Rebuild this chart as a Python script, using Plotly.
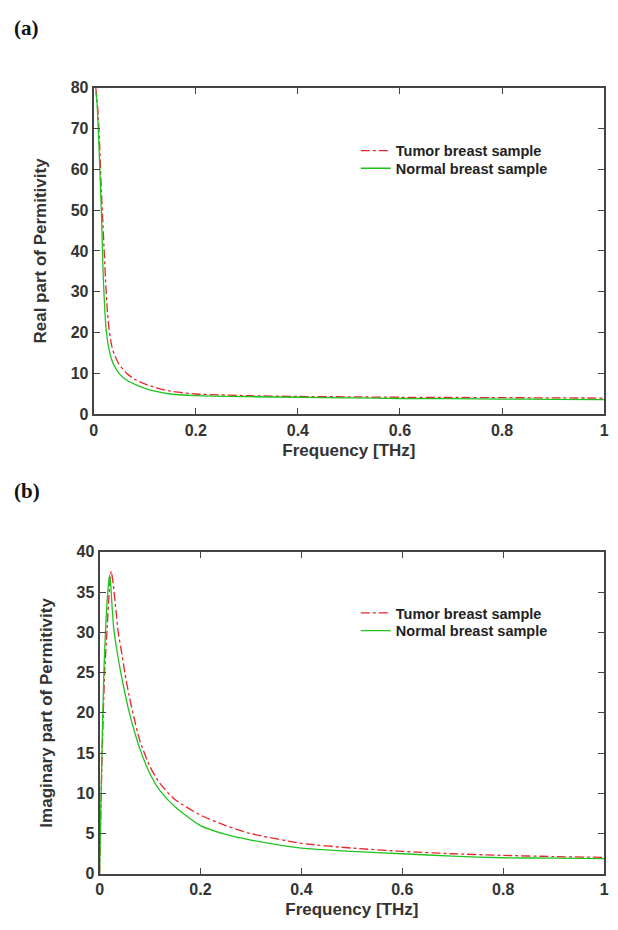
import plotly.graph_objects as go

# ---- Data ----
f_real_normal = [0.004, 0.006, 0.009, 0.012, 0.015, 0.017, 0.019, 0.022, 0.025, 0.03, 0.035, 0.04, 0.05, 0.06, 0.07, 0.08, 0.1, 0.12, 0.15, 0.2, 0.3, 0.4, 0.5, 0.6, 0.7, 0.8, 0.9, 1.0]
real_normal   = [79, 77, 70, 60, 50, 41, 33, 25, 20, 16, 13.5, 12, 10, 8.8, 8.0, 7.4, 6.4, 5.7, 5.0, 4.6, 4.35, 4.2, 4.05, 3.9, 3.85, 3.75, 3.7, 3.6]

f_real_tumor = [0.004, 0.006, 0.009, 0.012, 0.015, 0.018, 0.021, 0.024, 0.027, 0.03, 0.035, 0.04, 0.05, 0.065, 0.08, 0.1, 0.12, 0.15, 0.2, 0.3, 0.4, 0.5, 0.6, 0.7, 0.8, 0.9, 1.0]
real_tumor   = [80, 78, 73, 65, 55, 47, 39, 31, 25, 21, 17, 14.8, 12.2, 10, 8.6, 7.5, 6.6, 5.7, 5.0, 4.6, 4.4, 4.3, 4.2, 4.15, 4.1, 4.05, 4.0]

f_imag_normal = [0.0, 0.003, 0.006, 0.009, 0.012, 0.015, 0.0195, 0.022, 0.025, 0.028, 0.035, 0.042, 0.05, 0.059, 0.07, 0.08, 0.1, 0.12, 0.15, 0.2, 0.25, 0.3, 0.4, 0.5, 0.6, 0.7, 0.8, 0.9, 1.0]
imag_normal   = [0, 10, 19, 26, 30.5, 34, 37.1, 36, 33, 30.5, 27.5, 25, 22.5, 20, 17.5, 15.5, 12.4, 10.3, 8.3, 6.0, 4.9, 4.2, 3.2, 2.8, 2.5, 2.2, 2.0, 1.95, 1.9]

f_imag_tumor = [0.0, 0.003, 0.006, 0.01, 0.015, 0.019, 0.023, 0.027, 0.032, 0.037, 0.045, 0.05, 0.058, 0.066, 0.08, 0.1, 0.12, 0.15, 0.2, 0.25, 0.3, 0.4, 0.5, 0.6, 0.7, 0.8, 0.9, 1.0]
imag_tumor   = [0, 9, 17, 25, 30.5, 35, 37.6, 36, 33, 30, 27, 25, 22.3, 20, 16.5, 13.3, 11.2, 9.2, 7.3, 6.0, 5.0, 3.8, 3.2, 2.8, 2.5, 2.3, 2.15, 2.05]

x_ticks = [0, 0.2, 0.4, 0.6, 0.8, 1]
x_tick_text = ["0", "0.2", "0.4", "0.6", "0.8", "1"]
y_ticks_a = [0, 10, 20, 30, 40, 50, 60, 70, 80]
y_ticks_b = [0, 5, 10, 15, 20, 25, 30, 35, 40]

RED = "#e8262b"
GREEN = "#1fc41f"
AX = "#444444"
FONT = "Liberation Sans"
W, H = 618, 930

fig = go.Figure()
fig.add_trace(go.Scatter(x=f_real_tumor, y=real_tumor, mode="lines", name="Tumor breast sample",
                         line=dict(color=RED, width=1.3, dash="dashdot", shape="spline", smoothing=0.6),
                         xaxis="x", yaxis="y", legend="legend"))
fig.add_trace(go.Scatter(x=f_real_normal, y=real_normal, mode="lines", name="Normal breast sample",
                         line=dict(color=GREEN, width=1.3, shape="spline", smoothing=0.6),
                         xaxis="x", yaxis="y", legend="legend2"))
fig.add_trace(go.Scatter(x=f_imag_tumor, y=imag_tumor, mode="lines", name="Tumor breast sample",
                         line=dict(color=RED, width=1.3, dash="dashdot", shape="spline", smoothing=0.6),
                         xaxis="x2", yaxis="y2", legend="legend3"))
fig.add_trace(go.Scatter(x=f_imag_normal, y=imag_normal, mode="lines", name="Normal breast sample",
                         line=dict(color=GREEN, width=1.3, shape="spline", smoothing=0.6),
                         xaxis="x2", yaxis="y2", legend="legend4"))

tickfont = dict(family=FONT, size=16, color="#333333", weight="bold")
titlefont = dict(family=FONT, size=17, color="#333333", weight="bold")

common_axis = dict(showline=True, linecolor=AX, linewidth=2, mirror="ticks", ticks="inside",
                   ticklen=6, tickwidth=1.2, tickcolor=AX, showgrid=False, zeroline=False,
                   tickfont=tickfont, ticklabeloverflow="allow")

legfont = dict(family=FONT, size=14.5, color="#222222", weight="bold")


def leg(top_px):
    return dict(x=357 / W, y=1 - top_px / H, xanchor="left", yanchor="top", bgcolor="rgba(0,0,0,0)",
                font=legfont, itemwidth=30)


fig.update_layout(
    width=W, height=H,
    margin=dict(l=0, r=0, t=0, b=0),
    paper_bgcolor="white", plot_bgcolor="white",
    xaxis=dict(domain=[91 / W, 609 / W], range=[0, 1], tickvals=x_ticks, ticktext=x_tick_text,
               anchor="y", title=dict(text="Frequency [THz]", font=titlefont, standoff=6), **common_axis),
    yaxis=dict(domain=[1 - 414 / H, 1 - 81 / H], range=[0, 80], tickvals=y_ticks_a, anchor="x",
               title=dict(text="Real part of Permitivity", font=titlefont, standoff=20), **common_axis),
    xaxis2=dict(domain=[97 / W, 609 / W], range=[0, 1], tickvals=x_ticks, ticktext=x_tick_text,
                anchor="y2", title=dict(text="Frequency [THz]", font=titlefont, standoff=6), **common_axis),
    yaxis2=dict(domain=[1 - 882 / H, 1 - 554 / H], range=[0, 40], tickvals=y_ticks_b, anchor="x2",
                title=dict(text="Imaginary part of Permitivity", font=titlefont, standoff=20), **common_axis),
    legend=leg(129),
    legend2=leg(147),
    legend3=leg(600),
    legend4=leg(618),
    annotations=[
        dict(text="(a)", x=8 / W, y=1 - 20 / H, xref="paper", yref="paper", xanchor="left",
             yanchor="middle", showarrow=False,
             font=dict(family="Liberation Serif", size=21, color="#111111", weight="bold")),
        dict(text="(b)", x=8 / W, y=1 - 492 / H, xref="paper", yref="paper", xanchor="left",
             yanchor="middle", showarrow=False,
             font=dict(family="Liberation Serif", size=21, color="#111111", weight="bold")),
    ],
    showlegend=True,
)

fig.write_html("out.html")
